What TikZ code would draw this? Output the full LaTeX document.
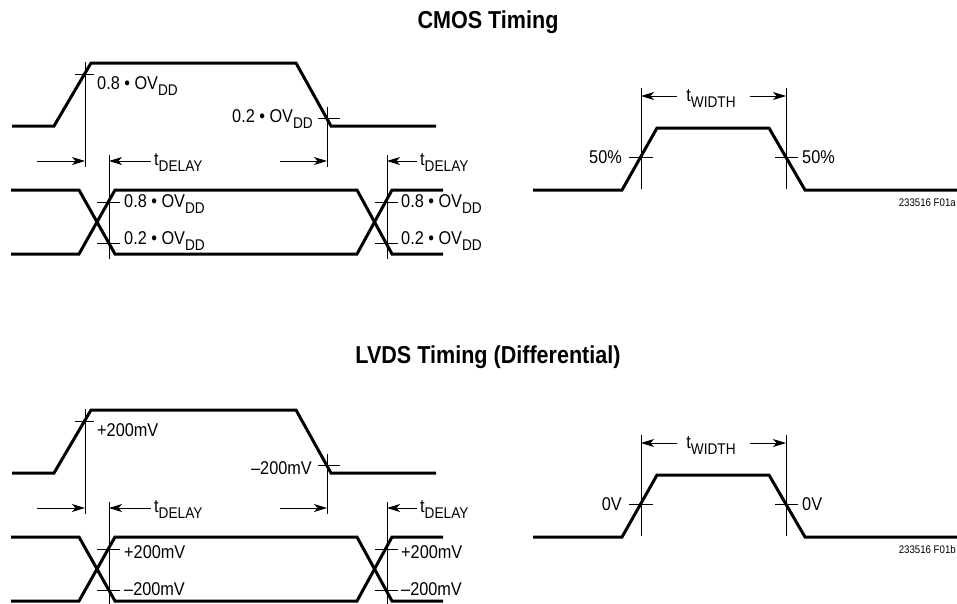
\documentclass[tikz,border=0pt]{standalone}
\usepackage{fontspec}
\setmainfont{Liberation Sans}[FakeStretch=0.88]
\usetikzlibrary{arrows.meta}
\newcommand\lsub[1]{\raisebox{-6pt}{\fontsize{15.5}{15.5}\selectfont #1}}
\begin{document}
\begin{tikzpicture}[x=1pt,y=-1pt,
  wave/.style={line width=3pt,line join=miter},
  thin/.style={line width=0.9pt},
  dim/.style={line width=1pt,-{Stealth[length=13pt,width=8pt,inset=3.5pt]}},
  lbl/.style={inner sep=0pt,font=\fontsize{18.5}{18.5}\selectfont},
  ttl/.style={inner sep=0pt,font=\fontsize{24.5}{24.5}\selectfont\bfseries},
  fig/.style={inner sep=0pt,font=\fontsize{11}{11}\selectfont}]
\useasboundingbox (0,0) rectangle (957,603);
\clip (0,0) rectangle (957,603);

% ================= CMOS =================
\node[ttl] (t1) at (488,22) {CMOS Timing};
% top waveform
\draw[wave] (12,126) -- (54,126) -- (91,63) -- (296,63) -- (331,126) -- (436,126);
\draw[thin] (75,74) -- (94,74);
\draw[thin] (318,118) -- (340,118);
\coordinate (va1) at (85,62); \coordinate (vb1) at (85,167);
\coordinate (vc1) at (327,107); \coordinate (vd1) at (327,167);
\draw[thin] (va1) -- (vb1);
\draw[thin] (vc1) -- (vd1);
\node[lbl,anchor=west] (l1) at (97,86) {0.8 \textbullet\ OV\lsub{DD}};
\node[lbl,anchor=east] (l2) at (313,119) {0.2 \textbullet\ OV\lsub{DD}};
% delay arrows
\coordinate (a1s) at (37,161); \coordinate (a1e) at (85,161);
\coordinate (a2s) at (280,161); \coordinate (a2e) at (327,161);
\draw[dim] (a1s) -- (a1e);
\draw[dim] (a2s) -- (a2e);
\coordinate (ve1) at (109,155); \coordinate (vf1) at (109,259);
\coordinate (vg1) at (387,155); \coordinate (vh1) at (387,259);
\draw[thin] (ve1) -- (vf1);
\draw[thin] (vg1) -- (vh1);
\node[lbl,anchor=west] (d1) at (154,163) {t\lsub{DELAY}};
\node[lbl,anchor=west] (d2) at (420,163) {t\lsub{DELAY}};
\draw[dim] (d1.west) ++(-3,-2) coordinate (d1a) -- (109,161);
\draw[dim] (d2.west) ++(-3,-2) coordinate (d2a) -- (387,161);
% bottom waveforms
\draw[wave] (11,190) -- (79,190) -- (115,254) -- (357,254) -- (392,190) -- (443,190);
\draw[wave] (11,254) -- (79,254) -- (115,190) -- (357,190) -- (392,254) -- (443,254);
\draw[thin] (97,202) -- (120,202);
\draw[thin] (97,243) -- (120,243);
\draw[thin] (375,202) -- (398,202);
\draw[thin] (375,243) -- (398,243);
\node[lbl,anchor=west] (l3) at (124,204) {0.8 \textbullet\ OV\lsub{DD}};
\node[lbl,anchor=west] (l4) at (124,241) {0.2 \textbullet\ OV\lsub{DD}};
\node[lbl,anchor=west] (l5) at (401,204) {0.8 \textbullet\ OV\lsub{DD}};
\node[lbl,anchor=west] (l6) at (401,241) {0.2 \textbullet\ OV\lsub{DD}};
% right pulse
\draw[wave] (533,190) -- (622,190) -- (657,128) -- (769,128) -- (805,190) -- (960,190);
\coordinate (w1) at (641,88); \coordinate (w2) at (641,189);
\coordinate (w3) at (786,88); \coordinate (w4) at (786,189);
\draw[thin] (w1) -- (w2);
\draw[thin] (w3) -- (w4);
\draw[thin] (629,157) -- (653,157);
\draw[thin] (775,157) -- (798,157);
\node[lbl] (tw1) at (711,99) {t\lsub{WIDTH}};
\draw[dim] (677,96) -- (641,96);
\draw[dim] (750,96) -- (786,96);
\node[lbl,anchor=east] (p1) at (622,157) {50\%};
\node[lbl,anchor=west] (p2) at (802,157) {50\%};
\node[fig,anchor=east] (f1) at (956,203) {233516 F01a};

% ================= LVDS =================
\node[ttl] (t2) at (488,357) {LVDS Timing (Differential)};
\draw[wave] (12,473) -- (54,473) -- (91,410) -- (296,410) -- (331,473) -- (436,473);
\draw[thin] (75,421) -- (94,421);
\draw[thin] (318,465) -- (340,465);
\coordinate (va2) at (85,409); \coordinate (vb2) at (85,514);
\coordinate (vc2) at (327,454); \coordinate (vd2) at (327,514);
\draw[thin] (va2) -- (vb2);
\draw[thin] (vc2) -- (vd2);
\node[lbl,anchor=west] (m1) at (97,430) {+200mV};
\node[lbl,anchor=east] (m2) at (312,468) {–200mV};
\coordinate (b1s) at (37,508); \coordinate (b1e) at (85,508);
\coordinate (b2s) at (280,508); \coordinate (b2e) at (327,508);
\draw[dim] (b1s) -- (b1e);
\draw[dim] (b2s) -- (b2e);
\coordinate (ve2) at (109,502); \coordinate (vf2) at (109,606);
\coordinate (vg2) at (387,502); \coordinate (vh2) at (387,606);
\draw[thin] (ve2) -- (vf2);
\draw[thin] (vg2) -- (vh2);
\node[lbl,anchor=west] (e1) at (154,510) {t\lsub{DELAY}};
\node[lbl,anchor=west] (e2) at (420,510) {t\lsub{DELAY}};
\draw[dim] (e1.west) ++(-3,-2) coordinate (e1a) -- (109,508);
\draw[dim] (e2.west) ++(-3,-2) coordinate (e2a) -- (387,508);
\draw[wave] (11,537) -- (79,537) -- (115,601) -- (357,601) -- (392,537) -- (443,537);
\draw[wave] (11,601) -- (79,601) -- (115,537) -- (357,537) -- (392,601) -- (443,601);
\draw[thin] (97,549) -- (120,549);
\draw[thin] (97,590) -- (120,590);
\draw[thin] (375,549) -- (398,549);
\draw[thin] (375,590) -- (398,590);
\node[lbl,anchor=west] (m3) at (124,552) {+200mV};
\node[lbl,anchor=west] (m4) at (124,589) {–200mV};
\node[lbl,anchor=west] (m5) at (401,552) {+200mV};
\node[lbl,anchor=west] (m6) at (401,589) {–200mV};
\draw[wave] (533,537) -- (622,537) -- (657,475) -- (769,475) -- (805,537) -- (960,537);
\coordinate (x1) at (641,435); \coordinate (x2) at (641,536);
\coordinate (x3) at (786,435); \coordinate (x4) at (786,536);
\draw[thin] (x1) -- (x2);
\draw[thin] (x3) -- (x4);
\draw[thin] (629,504) -- (653,504);
\draw[thin] (775,504) -- (798,504);
\node[lbl] (tw2) at (711,446) {t\lsub{WIDTH}};
\draw[dim] (677,443) -- (641,443);
\draw[dim] (750,443) -- (786,443);
\node[lbl,anchor=east] (q1) at (622,504) {0V};
\node[lbl,anchor=west] (q2) at (802,504) {0V};
\node[fig,anchor=east] (f2) at (956,550) {233516 F01b};
\end{tikzpicture}
\end{document}
